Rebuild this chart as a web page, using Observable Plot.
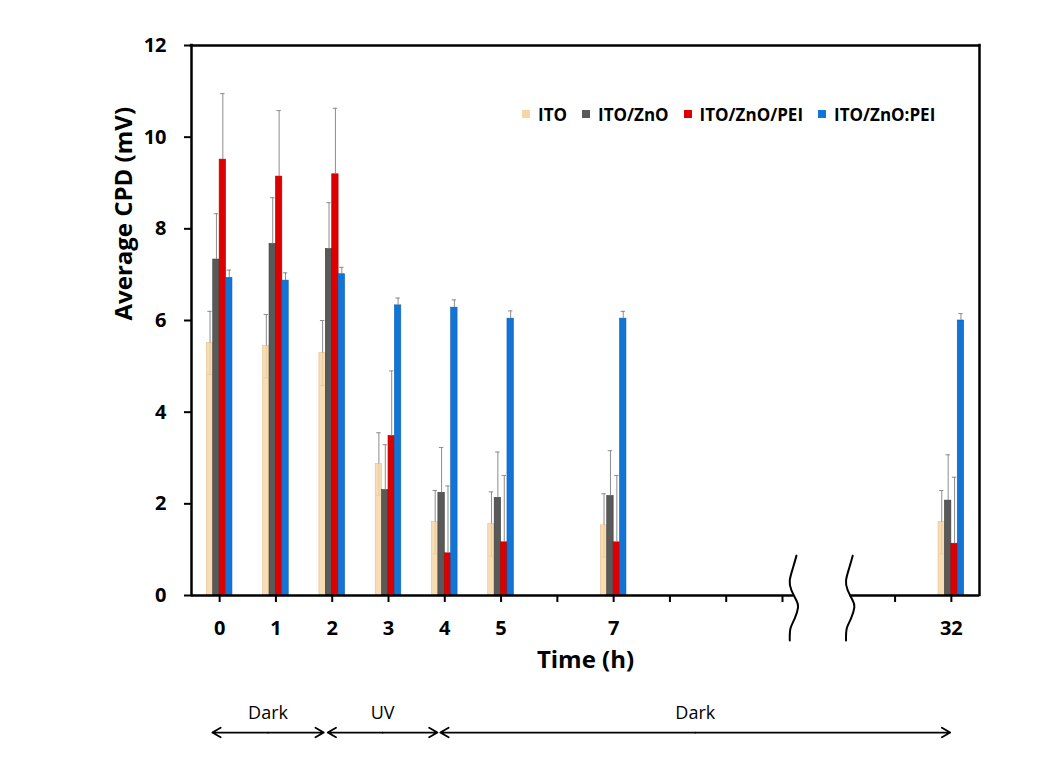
<!DOCTYPE html>
<html>
<head>
<meta charset="utf-8">
<script src="https://cdn.jsdelivr.net/npm/d3@7"></script>
<script src="https://cdn.jsdelivr.net/npm/@observablehq/plot@0.6"></script>
<style>
  body { margin: 0; background: #ffffff; }
  #wrap { position: relative; width: 1051px; height: 767px; background: #ffffff; }
  #legend { position: absolute; left: 522px; top: 102px; height: 24px; display: flex; align-items: center;
            font: bold 17px 'Open Sans', sans-serif; color: #000; white-space: nowrap; }
  .item { display: flex; align-items: center; margin-right: 15px; }
  .sw { width: 8px; height: 8px; margin-right: 8px; }
</style>
</head>
<body>
<div id="wrap"><div id="legend"></div></div>
<script>
// ---------- data ----------
const timeLabels = ["0", "1", "2", "3", "4", "5", "7", "32"];
const timeSlots  = [0, 1, 2, 3, 4, 5, 7, 13];          // position of each time on the broken axis
const seriesNames  = ["ITO", "ITO/ZnO", "ITO/ZnO/PEI", "ITO/ZnO:PEI"];
const seriesColors = ["#F7D6A6", "#595959", "#DC0000", "#1275D6"];
const seriesEdges  = ["#E3BE8A", "#3A3A3A", "#B00000", "#0A5EB3"];
const seriesOpacity = [0.85, 1, 1, 1];

const itoValues       = [5.51, 5.44, 5.29, 2.87, 1.60, 1.56, 1.53, 1.60];
const itoErrors       = [0.69, 0.69, 0.71, 0.68, 0.69, 0.70, 0.69, 0.69];
const itoZnOValues    = [7.33, 7.67, 7.56, 2.30, 2.24, 2.13, 2.17, 2.07];
const itoZnOErrors    = [1.00, 1.01, 1.01, 0.99, 0.99, 1.00, 0.99, 1.00];
const itoZnOPEIValues = [9.51, 9.14, 9.19, 3.48, 0.92, 1.16, 1.16, 1.13];
const itoZnOPEIErrors = [1.44, 1.44, 1.44, 1.42, 1.47, 1.46, 1.46, 1.45];
const blendValues     = [6.93, 6.87, 7.01, 6.33, 6.28, 6.04, 6.04, 6.00];
const blendErrors     = [0.17, 0.17, 0.15, 0.16, 0.17, 0.17, 0.16, 0.15];

const tickSlots  = [0, 1, 2, 3, 4, 5, 6, 7, 8, 9, 10, 12, 13];
const tickLabels = ["0", "1", "2", "3", "4", "5", "", "7", "", "", "", "", "32"];
const yTicks = [0, 2, 4, 6, 8, 10, 12];

const periods = [
  {label: "Dark", from: -0.13, to: 1.85},
  {label: "UV",   from: 1.92,  to: 3.87},
  {label: "Dark", from: 3.92,  to: 12.98}
];
const axisBreaks = [10.2, 11.2];
// squiggle shape of the axis break marks (offset in px, y in data units)
const breakShape = [
  {off: 2.7, y: 0.87}, {off: -0.7, y: 0.61}, {off: -4, y: 0.33}, {off: -2.3, y: 0.11},
  {off: 2.7, y: -0.11}, {off: 4.3, y: -0.26}, {off: 1, y: -0.50}, {off: -3.3, y: -0.72}, {off: -4, y: -0.98}
];

// ---------- layout ----------
const W = 1051, H = 767;
const mL = 191, mR = 72, mT = 45, mB = 172;
const pxPerUnit = (W - mL - mR) / 14;
const barW = 6.4 / pxPerUnit;
const capW = 2.2 / pxPerUnit;
const arrowLevel = -2.99;
const periodLabelLevel = -2.57;
const FONT = "'Open Sans', sans-serif";
const errColor = "#8c8c8c";

const valueSets = [itoValues, itoZnOValues, itoZnOPEIValues, blendValues];
const errorSets = [itoErrors, itoZnOErrors, itoZnOPEIErrors, blendErrors];
const rows = [];
seriesNames.forEach((name, s) => {
  timeSlots.forEach((slot, t) => {
    rows.push({series: name, s, slot, time: timeLabels[t], value: valueSets[s][t], err: errorSets[s][t]});
  });
});
const center = d => d.slot + (d.s - 1.5) * barW;
const lowRows = rows.filter(d => d.value - d.err > 0);

const bottomSegments = [{a: -0.5, b: axisBreaks[0]}, {a: axisBreaks[1], b: 13.5}];
const breakPoints = axisBreaks.flatMap((b, k) => breakShape.map(p => ({k, x: b + p.off / pxPerUnit, y: p.y})));
const arrowHalves = periods.flatMap(p => {
  const mid = (p.from + p.to) / 2;
  return [{x1: mid, x2: p.from}, {x1: mid, x2: p.to}];
});

const chart = Plot.plot({
  width: W, height: H,
  marginLeft: mL, marginRight: mR, marginTop: mT, marginBottom: mB,
  style: {fontFamily: FONT, background: "transparent", color: "#000", overflow: "visible"},
  x: {type: "linear", domain: [-0.5, 13.5]},
  y: {domain: [0, 12]},
  color: {type: "identity"},
  marks: [
    // lower halves of the error bars (behind the bars)
    Plot.ruleX(rows, {x: center, y1: d => Math.max(0, d.value - d.err), y2: "value", stroke: errColor, strokeWidth: 1}),
    Plot.ruleY(lowRows, {y: d => d.value - d.err, x1: d => center(d) - capW, x2: d => center(d) + capW, stroke: errColor, strokeWidth: 1}),
    Plot.rectY(rows, {
      x1: d => d.slot + (d.s - 2) * barW,
      x2: d => d.slot + (d.s - 1) * barW,
      y1: 0, y2: "value",
      fill: d => seriesColors[d.s],
      fillOpacity: d => seriesOpacity[d.s],
      stroke: d => seriesEdges[d.s],
      strokeWidth: 0.6
    }),
    // upper halves of the error bars
    Plot.ruleX(rows, {x: center, y1: "value", y2: d => d.value + d.err, stroke: errColor, strokeWidth: 1}),
    Plot.ruleY(rows, {y: d => d.value + d.err, x1: d => center(d) - capW, x2: d => center(d) + capW, stroke: errColor, strokeWidth: 1}),
    // frame (bottom broken)
    Plot.ruleY([12], {x1: -0.5, x2: 13.5, stroke: "#000", strokeWidth: 2.5, strokeLinecap: "square"}),
    Plot.ruleX([-0.5], {y1: 0, y2: 12, stroke: "#000", strokeWidth: 2.5, strokeLinecap: "square"}),
    Plot.ruleX([13.5], {y1: 0, y2: 12, stroke: "#000", strokeWidth: 2.5, strokeLinecap: "square"}),
    Plot.ruleY(bottomSegments, {y: 0, x1: "a", x2: "b", stroke: "#000", strokeWidth: 2.5}),
    Plot.line(breakPoints, {x: "x", y: "y", z: "k", curve: "natural", stroke: "#000", strokeWidth: 2}),
    Plot.axisX({ticks: tickSlots, tickFormat: d => tickLabels[tickSlots.indexOf(d)], tickSize: 7, tickPadding: 18,
                strokeWidth: 2, fontSize: 20, fontWeight: "bold", label: null}),
    Plot.axisY({ticks: yTicks, tickSize: 7, tickPadding: 18, strokeWidth: 2, fontSize: 20, fontWeight: "bold", label: null}),
    Plot.text(["Time (h)"], {frameAnchor: "bottom", dy: 72, fontSize: 24, fontWeight: "bold"}),
    Plot.text(["Average CPD (mV)"], {frameAnchor: "left", rotate: -90, dx: -67.5, fontSize: 24, fontWeight: "bold"}),
    Plot.arrow(arrowHalves, {x1: "x1", x2: "x2", y1: arrowLevel, y2: arrowLevel, headLength: 8, stroke: "#000", strokeWidth: 1.8}),
    Plot.text(periods, {x: p => (p.from + p.to) / 2, y: periodLabelLevel, text: "label", fontSize: 18, fontWeight: "normal"})
  ]
});
document.getElementById("wrap").appendChild(chart);

const legend = document.getElementById("legend");
seriesNames.forEach((name, s) => {
  const item = document.createElement("div");
  item.className = "item";
  const sw = document.createElement("span");
  sw.className = "sw";
  sw.style.background = seriesColors[s];
  const label = document.createElement("span");
  label.textContent = name;
  item.appendChild(sw); item.appendChild(label);
  legend.appendChild(item);
});
</script>
</body>
</html>
